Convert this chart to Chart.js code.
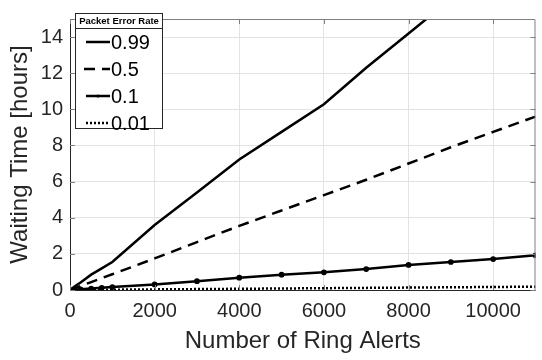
<!DOCTYPE html>
<html>
<head>
<meta charset="utf-8">
<script src="https://cdn.jsdelivr.net/npm/chart.js@4/dist/chart.umd.min.js"></script>
<style>
  html, body { margin: 0; padding: 0; background: #fff; }
  #wrap { width: 542px; height: 360px; }
</style>
</head>
<body>
<div id="wrap"><canvas id="graf" width="542" height="360"></canvas></div>
<script>
// number of ring alerts (x)
const alerts = [0, 100, 250, 500, 750, 1000, 2000, 3000, 4000, 5000, 6000, 7000, 8000, 9000, 10000, 11000]
// waiting time in hours, one list per packet error rate
const per099 = [0, 0.18, 0.42, 0.85, 1.2, 1.55, 3.6, 5.4, 7.22, 8.75, 10.28, 12.3, 14.2, 16.1, 18.0, 19.9]
const per05 = [0, 0.09, 0.22, 0.44, 0.66, 0.87, 1.75, 2.65, 3.55, 4.4, 5.25, 6.1, 7.0, 7.9, 8.75, 9.6]
const per01 = [0, 0.02, 0.04, 0.08, 0.12, 0.16, 0.31, 0.49, 0.68, 0.85, 0.98, 1.16, 1.39, 1.55, 1.71, 1.92]
const per001 = [0, 0.002, 0.004, 0.009, 0.013, 0.017, 0.034, 0.05, 0.067, 0.084, 0.1, 0.117, 0.134, 0.15, 0.167, 0.184]
const seriesLabels = ['0.99', '0.5', '0.1', '0.01']
const legendTitle = 'Packet Error Rate'
const xTicks = [0, 2000, 4000, 6000, 8000, 10000]
const yTicks = [0, 2, 4, 6, 8, 10, 12, 14]

const font = 'Liberation Sans, Arial, Helvetica, sans-serif'
const graph = document.getElementById('graf')

function pts(ys){
    return alerts.map((x, i) => ({x: x, y: ys[i]}))
}

const styles = [
    {borderDash: [], pointRadius: 0},
    {borderDash: [11, 7], pointRadius: 0},
    {borderDash: [], pointRadius: 1.6},
    {borderDash: [2, 2], pointRadius: 0}
]
const allData = [per099, per05, per01, per001]

const datasets = allData.map((d, i) => ({
    label: seriesLabels[i],
    data: pts(d),
    borderColor: '#000',
    backgroundColor: '#000',
    borderWidth: 2.5,
    borderDash: styles[i].borderDash,
    pointRadius: styles[i].pointRadius,
    pointStyle: 'circle',
    tension: 0,
    clip: 0
}))

// box around the plot with inward ticks, like matlab
const boxPlugin = {
    id: 'box',
    afterDraw(chart){
        const ctx = chart.ctx
        const a = chart.chartArea
        const xs = chart.scales.x, ys = chart.scales.y
        ctx.save()
        ctx.strokeStyle = '#262626'
        ctx.lineWidth = 1
        ctx.beginPath()
        ctx.moveTo(a.left + 0.5, a.top)
        ctx.lineTo(a.left + 0.5, a.bottom + 0.5)
        ctx.lineTo(a.right, a.bottom + 0.5)
        ctx.stroke()
        ctx.strokeStyle = '#808080'
        ctx.beginPath()
        ctx.moveTo(a.left, a.top + 0.5)
        ctx.lineTo(a.right - 0.5, a.top + 0.5)
        ctx.lineTo(a.right - 0.5, a.bottom)
        ctx.stroke()
        ctx.beginPath()
        xTicks.forEach(v => {
            const px = Math.round(xs.getPixelForValue(v)) + 0.5
            ctx.moveTo(px, a.top); ctx.lineTo(px, a.top + 5)
            ctx.moveTo(px, a.bottom); ctx.lineTo(px, a.bottom - 5)
        })
        yTicks.forEach(v => {
            const py = Math.round(ys.getPixelForValue(v)) + 0.5
            ctx.moveTo(a.left, py); ctx.lineTo(a.left + 5, py)
            ctx.moveTo(a.right, py); ctx.lineTo(a.right - 5, py)
        })
        ctx.stroke()
        ctx.restore()
    }
}

// legend box in the top left corner with a title row
const legendPlugin = {
    id: 'boxLegend',
    afterDraw(chart){
        const ctx = chart.ctx
        const x0 = 75.5, y0 = 13.5, w = 87, h = 115
        ctx.save()
        ctx.fillStyle = '#fff'
        ctx.fillRect(x0, y0, w, h)
        ctx.strokeStyle = '#262626'
        ctx.lineWidth = 1
        ctx.strokeRect(x0, y0, w, h)
        ctx.beginPath()
        ctx.moveTo(x0, y0 + 15)
        ctx.lineTo(x0 + w, y0 + 15)
        ctx.stroke()
        ctx.fillStyle = '#000'
        ctx.font = 'bold 9.5px ' + font
        ctx.textAlign = 'center'
        ctx.textBaseline = 'middle'
        ctx.fillText(legendTitle, x0 + w / 2, y0 + 8)
        ctx.font = '20px ' + font
        ctx.textAlign = 'left'
        chart.data.datasets.forEach((ds, i) => {
            const y = 42 + i * 27
            ctx.strokeStyle = '#000'
            ctx.lineWidth = 2.5
            ctx.setLineDash(ds.borderDash)
            ctx.beginPath()
            ctx.moveTo(i == 1 ? 84 : 86, y)
            ctx.lineTo(110, y)
            ctx.stroke()
            ctx.setLineDash([])
            if(ds.pointRadius > 0){
                ctx.beginPath()
                ctx.arc(98, y, ds.pointRadius, 0, Math.PI * 2)
                ctx.fill()
            }
            ctx.fillText(ds.label, 111, y + 1)
        })
        ctx.restore()
    }
}

new Chart(graph, {
    type: 'line',
    data: { datasets: datasets },
    options: {
        responsive: false,
        animation: false,
        layout: { padding: { top: 7, right: 0, left: 0, bottom: 0 } },
        plugins: {
            legend: { display: false },
            tooltip: { enabled: false }
        },
        scales: {
            x: {
                type: 'linear',
                min: 0,
                max: 11000,
                afterBuildTicks(scale){ scale.ticks = xTicks.map(v => ({value: v})) },
                afterFit(scale){ scale.height = 70 },
                grid: { color: '#e3e3e3', drawTicks: false },
                border: { display: false },
                ticks: {
                    color: '#262626',
                    padding: 9,
                    font: { family: font, size: 20 },
                    maxRotation: 0,
                    callback: v => String(v)
                },
                title: {
                    display: true,
                    text: 'Number of Ring Alerts',
                    color: '#262626',
                    font: { family: font, size: 24 },
                    padding: { top: 0, bottom: 4 }
                }
            },
            y: {
                type: 'linear',
                min: 0,
                max: 15,
                afterBuildTicks(scale){ scale.ticks = yTicks.map(v => ({value: v})) },
                afterFit(scale){ scale.width = 70 },
                grid: { color: '#e3e3e3', drawTicks: false },
                border: { display: false },
                ticks: {
                    color: '#262626',
                    padding: 7,
                    font: { family: font, size: 20 }
                },
                title: {
                    display: true,
                    text: 'Waiting Time [hours]',
                    color: '#262626',
                    font: { family: font, size: 24 },
                    padding: { top: 6, bottom: 0 }
                }
            }
        }
    },
    plugins: [boxPlugin, legendPlugin]
})
</script>
</body>
</html>
